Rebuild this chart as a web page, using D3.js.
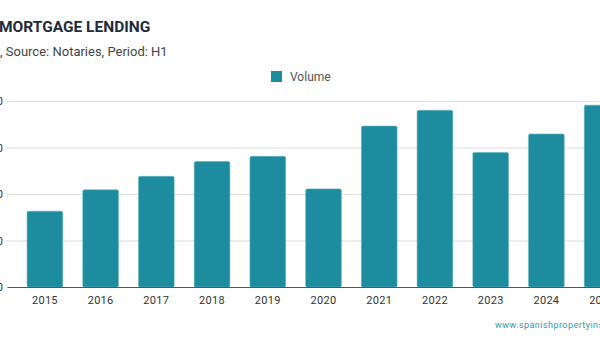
<!DOCTYPE html>
<html>
<head>
<meta charset="utf-8">
<script src="https://cdn.jsdelivr.net/npm/d3@7"></script>
<style>
  body { margin: 0; background: #fff; overflow: hidden; }
  svg { display: block; font-family: Roboto, "Noto Sans", sans-serif; }
</style>
</head>
<body>
<script>
// H1 mortgage lending volume
const years = ["2015", "2016", "2017", "2018", "2019", "2020", "2021", "2022", "2023", "2024", "2025"];
const volume = [16300, 20900, 23800, 27000, 28100, 21100, 34600, 38000, 28900, 32900, 39100];
const yTicks = [0, 10000, 20000, 30000, 40000];

const width = 600, height = 350;
const barColour = "#1c8c9e";

const svg = d3.select("body").append("svg")
    .attr("width", width)
    .attr("height", height);

// plot area runs off the right edge, like the reference crop
const x = d3.scaleBand()
    .domain(years)
    .range([7, 640])
    .padding(0.36);

const y = d3.scaleLinear()
    .domain([0, 40000])
    .range([287, 101]);

// titles
svg.append("text")
    .attr("x", -1)
    .attr("y", 32)
    .attr("font-size", 15.5)
    .attr("font-weight", 700)
    .attr("fill", "#1e2b3a")
    .text("MORTGAGE LENDING");

svg.append("text")
    .attr("x", 0)
    .attr("y", 56)
    .attr("font-size", 13)
    .attr("fill", "#444")
    .text(", Source: Notaries, Period: H1");

// legend
const legend = svg.append("g").attr("transform", "translate(271,71)");
legend.append("rect")
    .attr("width", 11)
    .attr("height", 11)
    .attr("fill", barColour);
legend.append("text")
    .attr("x", 19)
    .attr("y", 10)
    .attr("font-size", 12)
    .attr("fill", "#555")
    .text("Volume");

// gridlines + y labels (labels mostly cut off at left edge)
const yAxis = svg.append("g")
    .attr("transform", "translate(7,0)")
    .call(d3.axisLeft(y).tickValues(yTicks).tickSize(-640).tickFormat(d3.format(",")).tickPadding(4));
yAxis.select(".domain").remove();
yAxis.selectAll(".tick line").attr("stroke", "#ddd");
yAxis.selectAll(".tick text")
    .attr("font-size", 11)
    .attr("fill", "#333")
    .attr("font-family", "Roboto, sans-serif");

// bars
svg.append("g")
    .selectAll("rect")
    .data(years)
    .join("rect")
    .attr("x", d => x(d))
    .attr("y", (d, i) => y(volume[i]))
    .attr("width", x.bandwidth())
    .attr("height", (d, i) => y(0) - y(volume[i]))
    .attr("rx", 1.5)
    .attr("fill", barColour)
    .attr("stroke", "#5fb0bd")
    .attr("stroke-width", 0.6);

// x axis
const xAxis = svg.append("g")
    .attr("transform", "translate(0,287)")
    .call(d3.axisBottom(x).tickSize(0).tickPadding(9));
xAxis.select(".domain").attr("stroke", "#555").attr("stroke-width", 1.2);
xAxis.selectAll(".tick text")
    .attr("font-size", 11)
    .attr("fill", "#333")
    .attr("letter-spacing", 0.3)
    .attr("font-family", "Roboto, sans-serif");

// source watermark
svg.append("text")
    .attr("x", 495)
    .attr("y", 328)
    .attr("font-size", 9)
    .attr("letter-spacing", 0.45)
    .attr("fill", "#2a9cb0")
    .text("www.spanishpropertyinsight.com");
</script>
</body>
</html>
